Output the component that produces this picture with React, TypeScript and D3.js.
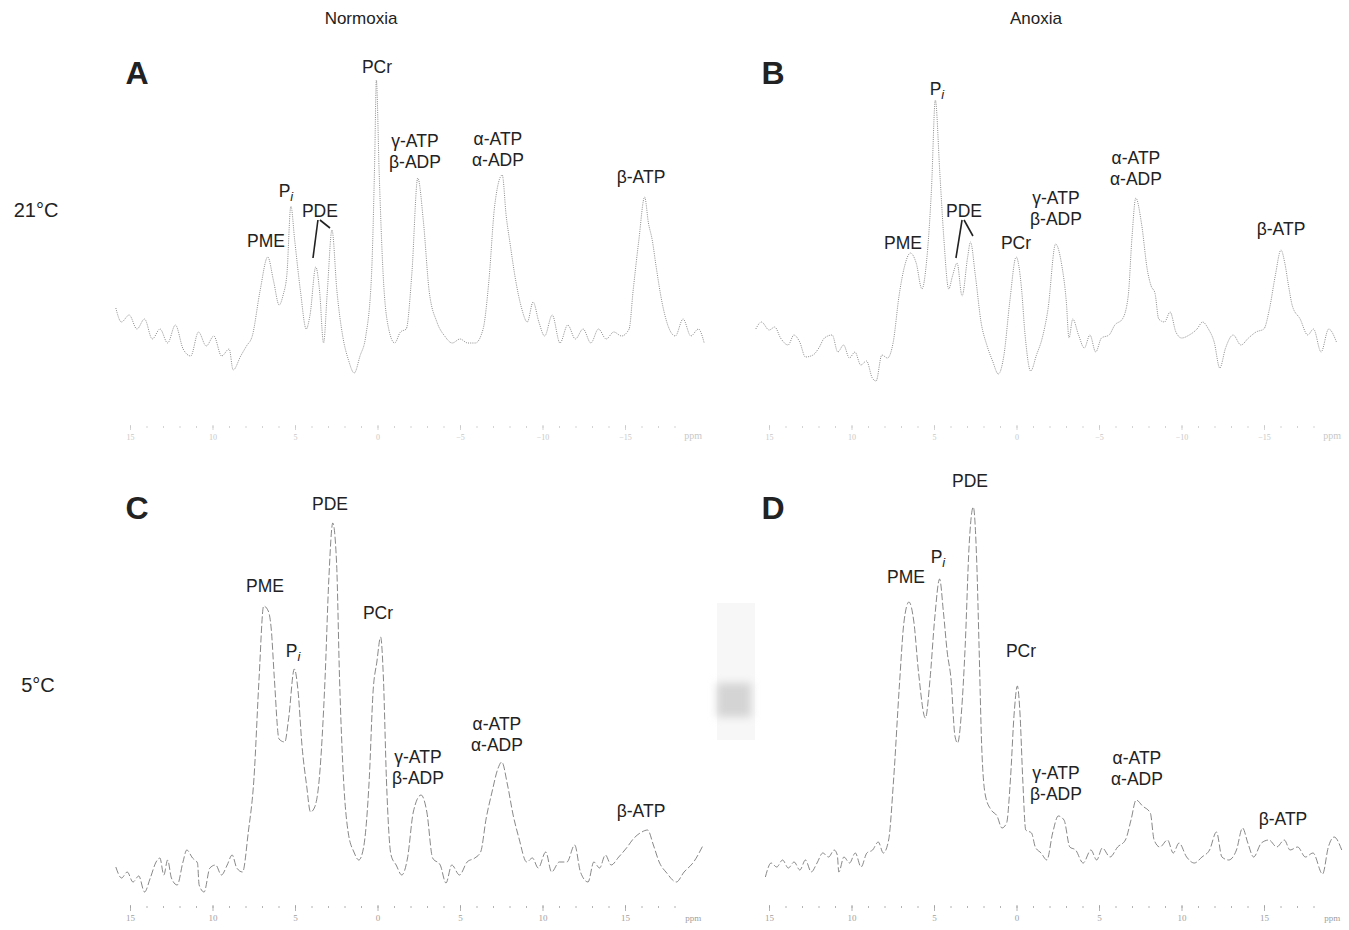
import React from "react";
import * as d3 from "d3";

// ---- spectra, [ppm, intensity] ----
const spectrumA: [number, number][] = [
  [15.89, 32], [15.55, 18], [15.08, 25], [14.61, 11], [14.15, 21], [13.68, 1], [13.21, 11], [12.75, -3],
  [12.28, 15], [11.81, -9], [11.35, -16], [10.88, 8], [10.41, -6], [9.95, 4], [9.48, -16], [9.02, -9],
  [8.78, -30], [8.32, -16], [7.97, -6], [7.62, 4], [7.15, 49], [6.68, 83], [6.33, 59], [5.99, 35],
  [5.75, 45], [5.52, 66], [5.28, 134], [5.05, 100], [4.7, 49], [4.35, 11], [4.12, 25], [3.77, 73],
  [3.54, 49], [3.3, -3], [3.07, 49], [2.79, 110], [2.49, 49], [2.14, 4], [1.79, -20], [1.44, -33],
  [1.09, -16], [0.74, 4], [0.39, 66], [0.2, 180], [0.1, 260], [-0.07, 168], [-0.31, 66], [-0.65, 11],
  [-1.01, -3], [-1.36, 8], [-1.71, 11], [-2.05, 66], [-2.41, 162], [-2.76, 117], [-3.1, 49], [-3.57, 18],
  [-4.04, 4], [-4.5, -3], [-4.97, 1], [-5.44, -3], [-5.9, -3], [-6.37, 11], [-6.72, 59], [-7.07, 134],
  [-7.53, 165], [-7.77, 124], [-8.0, 97], [-8.35, 59], [-8.7, 32], [-9.05, 18], [-9.4, 38], [-9.75, 18],
  [-10.1, 4], [-10.56, 25], [-11.03, -3], [-11.5, 15], [-11.96, 1], [-12.43, 11], [-12.9, -3], [-13.36, 11],
  [-13.83, 1], [-14.29, 8], [-14.76, 4], [-15.22, 11], [-15.46, 49], [-15.81, 100], [-16.16, 143], [-16.39, 117],
  [-16.62, 100], [-16.86, 73], [-17.21, 38], [-17.56, 15], [-18.02, 4], [-18.49, 21], [-18.96, 4], [-19.42, 11],
  [-19.77, -3],
];

const spectrumB: [number, number][] = [
  [15.83, 16], [15.49, 23], [15.02, 15], [14.68, 18], [14.33, 7], [13.87, 0], [13.52, 10], [13.17, 3],
  [12.82, -12], [12.36, -10], [12.01, -3], [11.67, 7], [11.2, 10], [10.86, -7], [10.51, 0], [10.16, -13],
  [9.82, -7], [9.47, -20], [9.12, -16], [8.77, -33], [8.54, -36], [8.19, -10], [7.85, -13], [7.5, 3],
  [7.15, 49], [6.81, 79], [6.46, 92], [6.11, 82], [5.76, 56], [5.49, 82], [5.18, 157], [4.95, 245],
  [4.68, 173], [4.44, 108], [4.14, 56], [3.91, 69], [3.63, 82], [3.33, 49], [2.99, 88], [2.82, 103],
  [2.52, 69], [2.18, 23], [1.83, 0], [1.48, -16], [1.13, -29], [0.79, -10], [0.44, 43], [0.05, 88],
  [-0.26, 59], [-0.49, 10], [-0.83, -26], [-1.18, -10], [-1.53, 7], [-1.88, 36], [-2.34, 101], [-2.69, 82],
  [-2.99, 43], [-3.15, 7], [-3.38, 26], [-3.73, 10], [-4.08, -3], [-4.42, 10], [-4.77, -7], [-5.12, 7],
  [-5.58, 10], [-5.93, 20], [-6.39, 26], [-6.74, 49], [-6.97, 108], [-7.2, 147], [-7.55, 121], [-7.9, 75],
  [-8.13, 59], [-8.36, 52], [-8.59, 26], [-8.94, 23], [-9.28, 33], [-9.63, 13], [-9.98, 7], [-10.44, 10],
  [-10.91, 16], [-11.25, 23], [-11.6, 16], [-11.95, 3], [-12.29, -23], [-12.64, -3], [-13.1, 10], [-13.57, 0],
  [-14.03, 7], [-14.49, 13], [-14.96, 16], [-15.3, 36], [-15.65, 69], [-16.0, 95], [-16.23, 82], [-16.46, 59],
  [-16.69, 39], [-17.16, 26], [-17.62, 10], [-17.97, 16], [-18.43, -7], [-18.89, 16], [-19.36, 3],
];

const spectrumC: [number, number][] = [
  [15.89, 13], [15.54, 2], [15.2, 8], [14.85, -2], [14.5, 4], [14.15, -12], [13.8, 2], [13.45, 18],
  [13.22, 22], [12.98, 5], [12.75, 20], [12.52, 2], [12.17, -5], [11.82, 18], [11.59, 30], [11.24, 22],
  [10.94, 17], [10.84, -5], [10.54, -12], [10.19, 12], [9.84, 15], [9.49, 5], [9.14, 15], [8.84, 25],
  [8.56, 12], [8.21, 8], [7.86, 48], [7.52, 101], [7.21, 201], [6.93, 274], [6.65, 269], [6.47, 251],
  [6.28, 201], [6.0, 141], [5.65, 138], [5.42, 161], [5.07, 211], [4.84, 188], [4.61, 135], [4.33, 95],
  [4.09, 68], [3.86, 72], [3.56, 101], [3.21, 201], [2.98, 301], [2.74, 357], [2.51, 317], [2.33, 201],
  [2.09, 101], [1.81, 48], [1.46, 28], [1.16, 20], [0.88, 32], [0.53, 101], [0.3, 188], [0.07, 218],
  [-0.16, 243], [-0.33, 201], [-0.51, 101], [-0.79, 25], [-1.1, 15], [-1.44, 5], [-1.79, 22], [-2.14, 68],
  [-2.61, 85], [-2.96, 68], [-3.31, 22], [-3.77, 15], [-4.12, -3], [-4.47, 15], [-4.94, 5], [-5.4, 18],
  [-5.87, 22], [-6.22, 28], [-6.56, 62], [-6.91, 88], [-7.26, 111], [-7.5, 118], [-7.85, 95], [-8.19, 65],
  [-8.54, 42], [-9.01, 18], [-9.36, 22], [-9.71, 12], [-10.17, 28], [-10.52, 8], [-10.99, 18], [-11.45, 18],
  [-11.92, 35], [-12.27, 8], [-12.73, -2], [-13.08, 18], [-13.43, 12], [-13.78, 25], [-14.13, 15], [-14.59, 23],
  [-15.06, 32], [-15.52, 42], [-15.99, 48], [-16.34, 50], [-16.69, 35], [-17.04, 18], [-17.5, 7], [-18.08, -2],
  [-18.55, 8], [-19.13, 18], [-19.71, 35],
];

const spectrumD: [number, number][] = [
  [15.25, -7], [14.9, 7], [14.56, 3], [14.21, 10], [13.86, 2], [13.51, 8], [13.16, 0], [12.82, 10],
  [12.47, -2], [12.12, 7], [11.77, 17], [11.42, 13], [11.08, 20], [10.89, 15], [10.8, -2], [10.49, 13],
  [10.15, 7], [9.8, 17], [9.45, 3], [9.1, 17], [8.75, 20], [8.41, 28], [8.1, 17], [7.78, 30],
  [7.48, 90], [7.13, 184], [6.85, 248], [6.55, 268], [6.25, 248], [5.97, 198], [5.55, 152], [5.27, 191],
  [4.99, 251], [4.69, 291], [4.46, 258], [4.23, 218], [4.0, 191], [3.76, 134], [3.6, 127], [3.37, 157],
  [3.14, 224], [2.9, 325], [2.65, 363], [2.44, 308], [2.3, 224], [2.14, 124], [1.91, 74], [1.56, 60],
  [1.21, 54], [0.91, 42], [0.63, 47], [0.4, 90], [0.17, 157], [-0.02, 184], [-0.18, 157], [-0.35, 90],
  [-0.53, 40], [-0.88, 37], [-1.11, 23], [-1.46, 17], [-1.81, 10], [-2.16, 37], [-2.5, 54], [-2.85, 50],
  [-3.2, 23], [-3.55, 20], [-4.01, 7], [-4.48, 20], [-4.83, 10], [-5.17, 22], [-5.64, 13], [-6.1, 23],
  [-6.57, 30], [-6.91, 50], [-7.22, 70], [-7.61, 64], [-8.08, 57], [-8.31, 30], [-8.66, 23], [-9.12, 30],
  [-9.47, 17], [-9.82, 27], [-10.28, 13], [-10.75, 7], [-11.21, 13], [-11.67, 20], [-12.09, 38], [-12.42, 13],
  [-12.83, 10], [-13.3, 20], [-13.67, 42], [-13.99, 27], [-14.34, 13], [-14.81, 27], [-15.27, 30], [-15.74, 23],
  [-16.2, 30], [-16.55, 20], [-17.01, 23], [-17.48, 13], [-17.94, 17], [-18.52, -4], [-18.87, 23], [-19.22, 33],
  [-19.68, 20],
];

// ---- axis ticks ----
const majorTicks = [15, 10, 5, 0, -5, -10, -15];
const minorTicks = d3.range(15, -19, -1);

// ---- peak annotations ----
type Ann = { text: string; ppm: number; int: number; line2?: string; sub?: string };
const peaksA: Ann[] = [
  { text: "PCr", ppm: 0.06, int: 274 },
  { text: "γ-ATP", ppm: -2.24, int: 200, line2: "β-ADP" },
  { text: "α-ATP", ppm: -7.27, int: 202, line2: "α-ADP" },
  { text: "β-ATP", ppm: -15.94, int: 164 },
  { text: "P", sub: "i", ppm: 5.58, int: 150 },
  { text: "PDE", ppm: 3.52, int: 130 },
  { text: "PME", ppm: 6.79, int: 100 },
];
const peaksB: Ann[] = [
  { text: "P", sub: "i", ppm: 4.85, int: 257 },
  { text: "PDE", ppm: 3.21, int: 135 },
  { text: "PME", ppm: 6.91, int: 103 },
  { text: "PCr", ppm: 0.06, int: 103 },
  { text: "γ-ATP", ppm: -2.36, int: 148, line2: "β-ADP" },
  { text: "α-ATP", ppm: -7.21, int: 188, line2: "α-ADP" },
  { text: "β-ATP", ppm: -16.0, int: 117 },
];
const peaksC: Ann[] = [
  { text: "PDE", ppm: 2.91, int: 377 },
  { text: "PME", ppm: 6.85, int: 295 },
  { text: "P", sub: "i", ppm: 5.15, int: 230 },
  { text: "PCr", ppm: 0.0, int: 268 },
  { text: "γ-ATP", ppm: -2.42, int: 124, line2: "β-ADP" },
  { text: "α-ATP", ppm: -7.21, int: 157, line2: "α-ADP" },
  { text: "β-ATP", ppm: -15.94, int: 70 },
];
const peaksD: Ann[] = [
  { text: "PDE", ppm: 2.85, int: 390 },
  { text: "P", sub: "i", ppm: 4.79, int: 314 },
  { text: "PME", ppm: 6.73, int: 294 },
  { text: "PCr", ppm: -0.24, int: 220 },
  { text: "γ-ATP", ppm: -2.36, int: 98, line2: "β-ADP" },
  { text: "α-ATP", ppm: -7.27, int: 113, line2: "α-ADP" },
  { text: "β-ATP", ppm: -16.12, int: 52 },
];
// PDE leader lines: [ppm1, int1, ppm2, int2]
const pdeLinesA = [[3.64, 120, 3.94, 82], [3.52, 120, 2.91, 112]];
const pdeLinesB = [[3.33, 125, 3.7, 87], [3.21, 125, 2.67, 109]];

const SANS = "'Liberation Sans', Arial, Helvetica, sans-serif";
const SERIF = "'Liberation Serif', 'Times New Roman', serif";
const PX_PER_PPM = 16.5;

type PanelProps = {
  data: [number, number][];
  zeroX: number;
  baseY: number;
  axisY: number;
  bottom: boolean;
  peaks: Ann[];
  leaders?: number[][];
};

function Panel({ data, zeroX, baseY, axisY, bottom, peaks, leaders }: PanelProps) {
  const x = d3
    .scaleLinear()
    .domain([15, -15])
    .range([zeroX - 15 * PX_PER_PPM, zeroX + 15 * PX_PER_PPM]);
  const y = d3.scaleLinear().domain([0, 300]).range([baseY, baseY - 300]);
  const line = d3
    .line<[number, number]>()
    .x((d) => x(d[0]))
    .y((d) => y(d[1]))
    .curve(d3.curveMonotoneX);

  const axisColor = bottom ? "#a0a0a0" : "#c8c8c8";
  const fmt = (v: number) => (bottom ? String(Math.abs(v)) : v < 0 ? "−" + Math.abs(v) : String(v));

  return (
    <g>
      <path
        d={line(data) || ""}
        fill="none"
        stroke={bottom ? "#6a6a6a" : "#8c8c8c"}
        strokeWidth={bottom ? 0.8 : 1}
        strokeDasharray={bottom ? "7 2.5" : "1 1.2"}
      />
      {/* axis */}
      <g stroke={axisColor} strokeWidth={0.8}>
        {minorTicks.map((t) => (
          <line key={t} x1={x(t)} x2={x(t)} y1={axisY - 1} y2={axisY + 1} />
        ))}
        {majorTicks.map((t) => (
          <line key={"M" + t} x1={x(t)} x2={x(t)} y1={axisY - 2} y2={axisY + (bottom ? 4 : 3)} />
        ))}
      </g>
      <g fontFamily={SERIF} fontSize={bottom ? 9 : 8} fill={axisColor} textAnchor="middle">
        {majorTicks.map((t) => (
          <text key={t} x={x(t)} y={axisY + (bottom ? 14 : 13)}>
            {fmt(t)}
          </text>
        ))}
        <text x={x(-19.1)} y={axisY + (bottom ? 14 : 12)} fontSize={bottom ? 9 : 10}>
          ppm
        </text>
      </g>
      {/* annotations */}
      <g fontFamily={SANS} fontSize={17.5} fill="#222" textAnchor="middle">
        {peaks.map((p, i) => (
          <g key={i}>
            <text x={x(p.ppm)} y={y(p.int) + 6.5}>
              {p.text}
              {p.sub && (
                <tspan fontStyle="italic" fontSize={13} dy={4}>
                  {p.sub}
                </tspan>
              )}
            </text>
            {p.line2 && (
              <text x={x(p.ppm)} y={y(p.int) + 27.5}>
                {p.line2}
              </text>
            )}
          </g>
        ))}
      </g>
      {leaders &&
        leaders.map((l, i) => (
          <line key={i} x1={x(l[0])} y1={y(l[1])} x2={x(l[2])} y2={y(l[3])} stroke="#222" strokeWidth={1.6} />
        ))}
    </g>
  );
}

export default function App() {
  return (
    <svg
      width={1349}
      height={930}
      style={{ position: "absolute", left: 0, top: 0, background: "#fff" }}
    >
      <defs>
        <filter id="blur" x="-50%" y="-50%" width="200%" height="200%">
          <feGaussianBlur stdDeviation="4" />
        </filter>
      </defs>
      <rect width={1349} height={930} fill="#fff" />
      {/* scan artefact near panel D */}
      <rect x={717} y={603} width={38} height={137} fill="#f7f7f7" />
      <rect x={717} y={683} width={34} height={34} fill="#d4d4d4" filter="url(#blur)" />

      <g fontFamily={SANS} fontSize={17} fill="#222" textAnchor="middle">
        <text x={361} y={24}>Normoxia</text>
        <text x={1036} y={24}>Anoxia</text>
      </g>
      <g fontFamily={SANS} fontSize={20} fill="#222" textAnchor="middle">
        <text x={36} y={217}>21°C</text>
        <text x={38} y={692}>5°C</text>
      </g>
      <g fontFamily={SANS} fontSize={32} fontWeight="bold" fill="#222" textAnchor="middle">
        <text x={137} y={84}>A</text>
        <text x={773} y={84}>B</text>
        <text x={137} y={519}>C</text>
        <text x={773} y={519}>D</text>
      </g>

      <Panel data={spectrumA} zeroX={378} baseY={340} axisY={427} bottom={false} peaks={peaksA} leaders={pdeLinesA} />
      <Panel data={spectrumB} zeroX={1017} baseY={345} axisY={427} bottom={false} peaks={peaksB} leaders={pdeLinesB} />
      <Panel data={spectrumC} zeroX={378} baseY={880} axisY={907} bottom={true} peaks={peaksC} />
      <Panel data={spectrumD} zeroX={1017} baseY={870} axisY={907} bottom={true} peaks={peaksD} />
    </svg>
  );
}
